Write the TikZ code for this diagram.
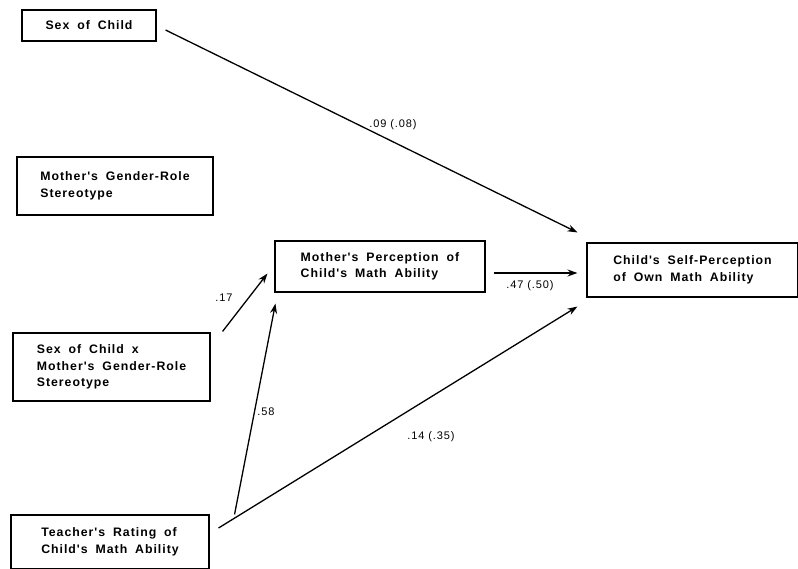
\documentclass[tikz,border=0pt]{standalone}
\usepackage{fontspec}
\setmainfont{Liberation Sans}
\newfontfamily\boxfont[LetterSpace=8,WordSpace=1.8]{Liberation Sans Bold}
\newfontfamily\labfont[LetterSpace=8]{Liberation Sans}
\usetikzlibrary{arrows.meta,calc}
\tikzset{
  varbox/.style={draw,line width=1.1pt,align=left,font=\boxfont\fontsize{12.3}{16.5}\selectfont,inner sep=0pt},
  coef/.style={font=\labfont\fontsize{11}{12}\selectfont},
  path/.style={line width=1.3pt,-{Stealth[length=10pt,width=7pt]}}
}
\begin{document}
\begin{tikzpicture}[x=1pt,y=-1pt]
\useasboundingbox (0,0) rectangle (798,569);

\node[varbox,minimum width=134,minimum height=31] (sex) at (89,25.5) {Sex of Child};
\node[varbox,minimum width=196,minimum height=58] (stereo) at (115,186) {Mother's Gender-Role\\Stereotype};
\node[varbox,minimum width=197,minimum height=68] (inter) at (111.5,367) {Sex of Child x\\Mother's Gender-Role\\Stereotype};
\node[varbox,minimum width=198,minimum height=54] (teach) at (110,542) {Teacher's Rating of\\Child's Math Ability};
\node[varbox,minimum width=210,minimum height=51] (momperc) at (380,266.5) {Mother's Perception of\\Child's Math Ability};
\node[varbox,minimum width=211,minimum height=54] (selfperc) at (692.5,270) {Child's Self-Perception\\of Own Math Ability};

\draw[path] ($(sex.east)+(9,4.5)$) -- ($(selfperc.north west)+(-9,-10)$);
\node[coef] (c1) at (393,125) {.09 (.08)};

\draw[path] ($(inter.north east)+(12,-1)$) -- ($(momperc.south west)+(-7,-19)$);
\node[coef] (c2) at (224,298) {.17};

\draw[path] ($(teach.north east)+(25,0)$) -- ($(momperc.south west)+(1,11)$);
\node[coef] (c3) at (266,412) {.58};

\draw[path] ($(teach.east)+(9,-14)$) -- ($(selfperc.south west)+(-9,9)$);
\node[coef] (c4) at (431,437) {.14 (.35)};

\draw[path] ($(momperc.east)+(8,6.5)$) -- ($(selfperc.west)+(-9,3)$);
\node[coef] (c5) at (530,286) {.47 (.50)};
\end{tikzpicture}
\end{document}
